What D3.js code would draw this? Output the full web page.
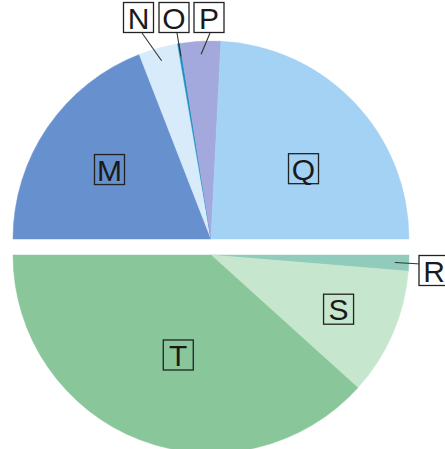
<!DOCTYPE html>
<html>
<head>
<meta charset="utf-8">
<script src="https://cdn.jsdelivr.net/npm/d3@7"></script>
<style>
  body { margin: 0; background: #fff; }
  svg { display: block; }
</style>
</head>
<body>
<div id="chart"></div>
<script>
// slice names and shares (%)
var labels = ['M', 'N', 'O', 'P', 'Q', 'R', 'S', 'T'];
var values = [19.1, 3.2, 0.2, 3.3, 24.2, 1.3, 10.4, 38.3];
var colors = ['#6790cf', '#d8ebfa', '#1c8ec6', '#a4a9dd', '#a3d2f5', '#90cbbc', '#c6e6cd', '#89c69a'];

var w = 445, h = 449;
var cx = 211, cy = 247, r = 198, gap = 8;

var svg = d3.select('#chart').append('svg')
    .attr('width', w)
    .attr('height', h);

var pie = d3.pie()
    .sort(null)
    .startAngle(-Math.PI / 2)
    .endAngle(Math.PI * 1.5)
    .value(function (d) { return d.value; });

var data = labels.map(function (l, i) {
    return {label: l, value: values[i], color: colors[i]};
});
var arcs = pie(data);

var arc = d3.arc().innerRadius(0).outerRadius(r);

function mid(d) { return (d.startAngle + d.endAngle) / 2; }
function isTop(d) { return mid(d) < Math.PI / 2; }
function center(d) { return [cx, cy + (isTop(d) ? -gap : gap)]; }
function polar(d, rad) {
    var c = center(d), a = mid(d);
    return [c[0] + rad * Math.sin(a), c[1] - rad * Math.cos(a)];
}

svg.selectAll('path.slice')
    .data(arcs)
    .enter()
    .append('path')
    .attr('class', 'slice')
    .attr('transform', function (d) { return 'translate(' + center(d) + ')'; })
    .attr('d', arc)
    .style('fill', function (d) { return d.data.color; })
    .style('stroke', function (d) { return d.data.color; })
    .style('stroke-width', 0.5);

// labels: inside ones sit near centroid (with a nudge), outside ones get a leader line
var inside = {M: {r: 123, dx: 0, dy: 0}, Q: {r: 118, dx: 7, dy: 11},
              S: {r: 139, dx: 0, dy: -1}, T: {r: 105, dx: 5, dy: 2}};
var outside = {
    N: {box: [138.5, 17.5], end: [142, 33]},
    O: {box: [174, 17.5], end: [177, 33]},
    P: {box: [209, 17.5], end: [210, 33]},
    R: {box: [434, 270.5], end: [421, 264]}
};
var bs = 30;

arcs.forEach(function (d) {
    var l = d.data.label, pos;
    if (inside[l]) {
        pos = polar(d, inside[l].r);
        pos = [pos[0] + inside[l].dx, pos[1] + inside[l].dy];
    } else {
        var o = outside[l];
        pos = o.box;
        var p0 = polar(d, l === 'R' ? 184 : 185);
        svg.append('line')
            .attr('x1', p0[0]).attr('y1', p0[1])
            .attr('x2', o.end[0]).attr('y2', o.end[1])
            .style('stroke', '#333')
            .style('stroke-width', 1.1);
    }
    var g = svg.append('g').attr('transform', 'translate(' + pos + ')');
    g.append('rect')
        .attr('x', -bs / 2).attr('y', -bs / 2)
        .attr('width', bs).attr('height', bs)
        .style('fill', inside[l] ? 'none' : '#fff')
        .style('stroke', '#222')
        .style('stroke-width', 1.3);
    g.append('text')
        .attr('text-anchor', 'middle')
        .attr('y', 11)
        .style('font-family', 'Liberation Sans, Arial, sans-serif')
        .style('font-size', '30px')
        .style('fill', '#1a1a1a')
        .text(l);
});
</script>
</body>
</html>
